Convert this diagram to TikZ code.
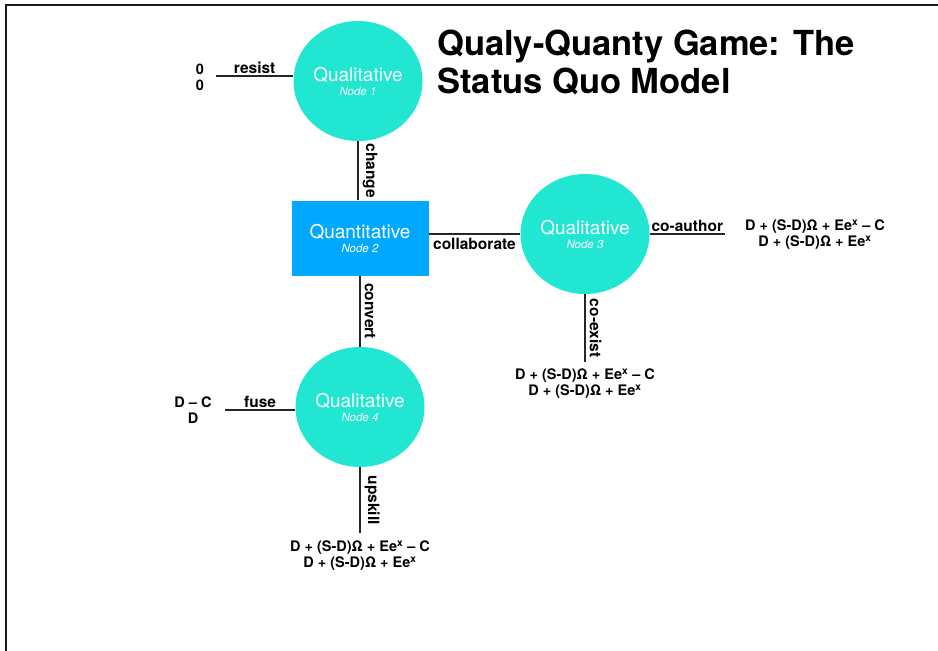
\documentclass[tikz,border=0pt]{standalone}
\usepackage{fontspec}
\setmainfont{TeX Gyre Heros}
\usetikzlibrary{positioning,shapes.geometric}
\definecolor{qualcol}{HTML}{20E6D2}
\definecolor{quantcol}{HTML}{00A8FF}
\newcommand{\playertext}[2]{{\fontsize{19}{20}\selectfont #1}\\[2pt]{\itshape\fontsize{11.5}{12}\selectfont #2}}

\begin{document}
\begin{tikzpicture}[x=1pt,y=-1pt,
  qual/.style={ellipse,fill=qualcol,minimum width=129pt,minimum height=120pt,inner sep=0pt,text=white,align=center},
  quant/.style={rectangle,fill=quantcol,minimum width=137pt,minimum height=75pt,inner sep=0pt,text=white,align=center},
  link/.style={line width=1.6pt,draw=black!85},
  lbl/.style={font=\bfseries\fontsize{15.5}{17}\selectfont,inner sep=2pt},
  vlbl/.style={lbl,rotate=-90,anchor=south,inner sep=4pt},
  pay/.style={font=\bfseries\fontsize{14.5}{16}\selectfont,align=center,inner sep=0pt}]
\useasboundingbox (0,0) rectangle (938,651);
\draw[line width=2pt,draw=black!90] (6,651) |- (938,5);
% title
\node[anchor=north west,align=left,font=\bfseries\fontsize{34.5}{38}\selectfont,inner sep=0pt] (title) at (437,30)
  {Qualy-Quanty Game: The\\Status Quo Model};
% players
\node[qual] (n1) at (358,81) {\playertext{Qualitative}{Node 1}};
\node[quant] (n2) at (360,238) {\playertext{Quantitative}{Node 2}};
\node[qual] (n3) at (585,234) {\playertext{Qualitative}{Node 3}};
\node[qual] (n4) at (360,407) {\playertext{Qualitative}{Node 4}};
% payoffs
\node[pay] (p1) at (200,77) {0\\0};
\node[pay] (p3) at (815,235) {D + (S-D)Ω + Ee\textsuperscript{x} – C\\D + (S-D)Ω + Ee\textsuperscript{x}};
\node[pay] (p3b) at (585,384) {D + (S-D)Ω + Ee\textsuperscript{x} – C\\D + (S-D)Ω + Ee\textsuperscript{x}};
\node[pay] (p4) at (193,410) {D – C\\D};
\node[pay] (p4b) at (360,556) {D + (S-D)Ω + Ee\textsuperscript{x} – C\\D + (S-D)Ω + Ee\textsuperscript{x}};
% free ends
\coordinate (e1) at (216,76);
\coordinate (e3) at (725,234);
\coordinate (e3b) at (585,362);
\coordinate (e4) at (225,410);
\coordinate (e4b) at (360,533);
% moves
\draw[link] (e1) -- node[lbl,above] {resist} (e1 -| n1.west);
\draw[link] (n1.south) -- node[vlbl] {change} (n1.south |- n2.north);
\draw[link] (n2.east |- n3.west) -- node[lbl,below=1pt] {collaborate} (n3.west);
\draw[link] (n2.south) -- node[vlbl] {convert} (n4.north);
\draw[link] (n3.east) -- node[lbl,above] {co-author} (e3);
\draw[link] (n3.south) -- node[vlbl] {co-exist} (e3b);
\draw[link] (e4) -- node[lbl,above] {fuse} (e4 -| n4.west);
\draw[link] (n4.south) -- node[vlbl] {upskill} (e4b);
\end{tikzpicture}
\end{document}
